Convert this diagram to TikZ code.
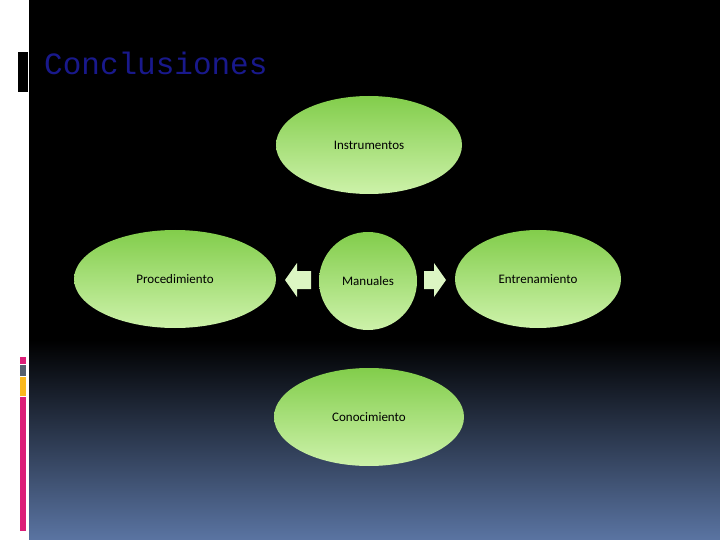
\documentclass[tikz,border=0pt]{standalone}
\usepackage{fontspec}
\usetikzlibrary{shapes.geometric}
\setmainfont{Carlito}
\newfontfamily\titlefont{Liberation Mono}
\definecolor{gtop}{RGB}{130,205,75}
\definecolor{gbot}{RGB}{205,242,170}
\definecolor{bgbot}{RGB}{90,116,162}
\definecolor{mag}{RGB}{220,30,120}
\definecolor{gry}{RGB}{85,95,110}
\definecolor{org}{RGB}{250,185,30}
\definecolor{ttl}{RGB}{25,25,140}
\begin{document}
\begin{tikzpicture}[x=1pt,y=-1pt,
  blob/.style={ellipse,top color=gtop,bottom color=gbot,draw=none,font=\fontsize{13}{15}\selectfont,inner sep=0pt},
  arr/.style={fill=gbot!70!white,draw=none}]
\useasboundingbox (0,0) rectangle (720,540);
\fill[white] (0,0) rectangle (720,540);
\fill[black] (29,0) rectangle (720,340);
\shade[top color=black,bottom color=bgbot] (29,340) rectangle (720,540);
\fill[black] (18,52) rectangle (28,92);
\fill[mag] (20,357) rectangle (26,364);
\fill[gry] (20,365) rectangle (26,376);
\fill[org] (20,377) rectangle (26,396);
\fill[mag] (20,397) rectangle (26,531);
\node[anchor=base west,text=ttl,font=\titlefont\fontsize{31}{33}\selectfont,inner sep=0pt] (t) at (44,75) {Conclusiones};
\node[blob,minimum width=186,minimum height=98] (ins) at (369,145) {Instrumentos};
\node[blob,minimum width=202,minimum height=98] (pro) at (175,279) {Procedimiento};
\node[blob,minimum width=98,minimum height=98] (man) at (368,281) {Manuales};
\node[blob,minimum width=166,minimum height=98] (ent) at (538,279) {Entrenamiento};
\node[blob,minimum width=190,minimum height=98] (con) at (369,417) {Conocimiento};
\coordinate (la) at (285,280);
\coordinate (ra) at (446,280);
\fill[arr] (la) -- ++(12,-17) -- ++(0,8) -- ++(14,0) -- ++(0,18) -- ++(-14,0) -- ++(0,8) -- cycle;
\fill[arr] (ra) -- ++(-12,-17) -- ++(0,8) -- ++(-10,0) -- ++(0,18) -- ++(10,0) -- ++(0,8) -- cycle;
\end{tikzpicture}
\end{document}
